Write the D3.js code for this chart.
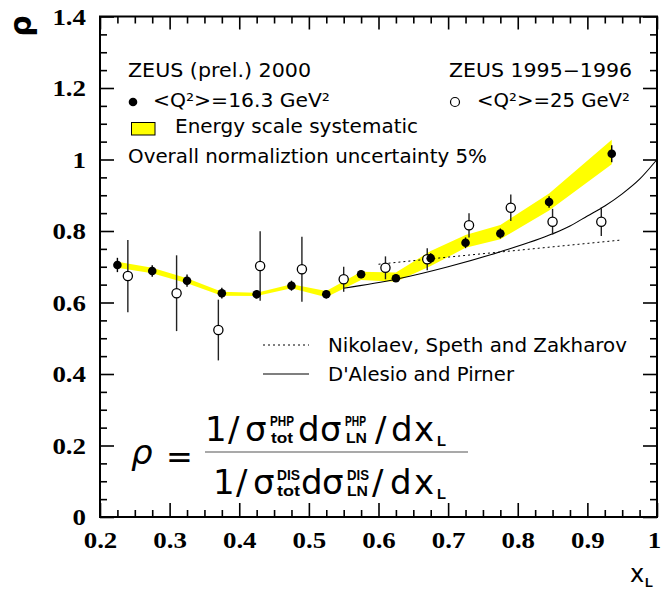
<!DOCTYPE html>
<html>
<head>
<meta charset="utf-8">
<script src="https://cdn.jsdelivr.net/npm/d3@7"></script>
<style>
  html, body { margin: 0; padding: 0; background: #fff; }
  svg { display: block; }
</style>
</head>
<body>
<svg id="chart" width="661" height="591"></svg>
<script>
// ZEUS 2000 (prel.), <Q^2> = 16.3 GeV^2 : leading-neutron ratio rho vs x_L
const xZeus2000 = [0.225, 0.275, 0.325, 0.375, 0.425, 0.475, 0.525, 0.575, 0.625, 0.675, 0.725, 0.775, 0.845, 0.935];
const rhoZeus2000 = [0.705, 0.688, 0.661, 0.626, 0.623, 0.647, 0.623, 0.679, 0.668, 0.724, 0.767, 0.793, 0.881, 1.016];
const errZeus2000 = [0.020, 0.016, 0.017, 0.015, 0.012, 0.014, 0.012, 0.011, 0.011, 0.014, 0.015, 0.014, 0.016, 0.024];
// energy-scale systematic band (lower / upper edge at each x)
const bandLow  = [0.697, 0.682, 0.654, 0.619, 0.618, 0.640, 0.615, 0.663, 0.658, 0.702, 0.753, 0.777, 0.857, 0.987];
const bandHigh = [0.714, 0.697, 0.668, 0.630, 0.627, 0.651, 0.632, 0.686, 0.684, 0.744, 0.789, 0.817, 0.905, 1.055];

// ZEUS 1995-1996, <Q^2> = 25 GeV^2
const xZeus9596 = [0.24, 0.31, 0.37, 0.43, 0.49, 0.55, 0.61, 0.67, 0.73, 0.79, 0.85, 0.92];
const rhoZeus9596 = [0.674, 0.626, 0.523, 0.702, 0.693, 0.665, 0.697, 0.721, 0.816, 0.865, 0.826, 0.826];
const errZeus9596 = [0.101, 0.106, 0.085, 0.097, 0.091, 0.035, 0.032, 0.031, 0.034, 0.037, 0.036, 0.040];

// theory curves
const xNSZ = [0.60, 0.70, 0.80, 0.95];
const rhoNSZ = [0.707, 0.727, 0.746, 0.775];
const xDP = [0.55, 0.625, 0.70, 0.775, 0.85, 0.875, 0.90, 0.925, 0.95, 0.975, 1.0];
const rhoDP = [0.640, 0.665, 0.700, 0.742, 0.792, 0.814, 0.842, 0.870, 0.904, 0.945, 1.0];

// axis ticks
const xMajorTicks = [0.2, 0.3, 0.4, 0.5, 0.6, 0.7, 0.8, 0.9, 1];
const xTickLabels = ["0.2", "0.3", "0.4", "0.5", "0.6", "0.7", "0.8", "0.9", "1"];
const yMajorTicks = [0, 0.2, 0.4, 0.6, 0.8, 1, 1.2, 1.4];
const yTickLabels = ["0", "0.2", "0.4", "0.6", "0.8", "1", "1.2", "1.4"];

const svg = d3.select("#chart");
const L = 100, R = 657, T = 16.5, B = 517;
const x = d3.scaleLinear().domain([0.2, 1]).range([L, R]);
const y = d3.scaleLinear().domain([0, 1.4]).range([B, T]);

const xMinor = d3.range(0.2, 1.0001, 0.025).filter(v => Math.abs(v * 10 - Math.round(v * 10)) > 1e-6);
const yMinor = d3.range(0, 1.4001, 0.05).filter(v => Math.abs(v * 5 - Math.round(v * 5)) > 1e-6);

const serif = "'Liberation Serif', 'Times New Roman', serif";
const sans = "'DejaVu Sans', sans-serif";

function styleAxis(g) {
  g.select(".domain").remove();
  g.selectAll(".tick line").attr("stroke", "#000").attr("stroke-width", 1.6);
}

// bottom axis with labels
const gB = svg.append("g").attr("transform", `translate(0,${B})`)
  .call(d3.axisBottom(x).tickValues(xMajorTicks).tickSize(-14).tickSizeOuter(0).tickPadding(14)
    .tickFormat((d, i) => xTickLabels[i]));
styleAxis(gB);
svg.append("g").attr("transform", `translate(0,${B})`)
  .call(d3.axisBottom(x).tickValues(xMinor).tickSize(-7).tickSizeOuter(0).tickFormat(""))
  .call(styleAxis);
// top axis
svg.append("g").attr("transform", `translate(0,${T})`)
  .call(d3.axisTop(x).tickValues(xMajorTicks).tickSize(-13).tickSizeOuter(0).tickFormat(""))
  .call(styleAxis);
svg.append("g").attr("transform", `translate(0,${T})`)
  .call(d3.axisTop(x).tickValues(xMinor).tickSize(-7).tickSizeOuter(0).tickFormat(""))
  .call(styleAxis);
// left axis with labels
const gL = svg.append("g").attr("transform", `translate(${L},0)`)
  .call(d3.axisLeft(y).tickValues(yMajorTicks).tickSize(-14).tickSizeOuter(0).tickPadding(14)
    .tickFormat((d, i) => yTickLabels[i]));
styleAxis(gL);
svg.append("g").attr("transform", `translate(${L},0)`)
  .call(d3.axisLeft(y).tickValues(yMinor).tickSize(-7).tickSizeOuter(0).tickFormat(""))
  .call(styleAxis);
// right axis
svg.append("g").attr("transform", `translate(${R},0)`)
  .call(d3.axisRight(y).tickValues(yMajorTicks).tickSize(-14).tickSizeOuter(0).tickFormat(""))
  .call(styleAxis);
svg.append("g").attr("transform", `translate(${R},0)`)
  .call(d3.axisRight(y).tickValues(yMinor).tickSize(-7).tickSizeOuter(0).tickFormat(""))
  .call(styleAxis);

[gB, gL].forEach(g => g.selectAll(".tick text")
  .attr("fill", "#000")
  .style("font-family", serif).style("font-weight", "bold").style("font-size", "24px")
  .each(function () {
    const w = this.getComputedTextLength();
    d3.select(this).attr("textLength", w * 1.12).attr("lengthAdjust", "spacingAndGlyphs");
  }));
// keep the last x label inside the page edge
gB.selectAll(".tick text").filter(d => d === 1).attr("dx", -3);

// frame
svg.append("rect").attr("x", L).attr("y", T).attr("width", R - L).attr("height", B - T)
  .attr("fill", "none").attr("stroke", "#000").attr("stroke-width", 2);

// systematic band
const bandData = xZeus2000.map((v, i) => ({ x: v, lo: bandLow[i], hi: bandHigh[i] }));
svg.append("path").datum(bandData)
  .attr("d", d3.area().x(d => x(d.x)).y0(d => y(d.lo)).y1(d => y(d.hi)))
  .attr("fill", "#ffff00").attr("stroke", "none");

// theory curves
svg.append("path").datum(xNSZ.map((v, i) => [v, rhoNSZ[i]]))
  .attr("d", d3.line().x(d => x(d[0])).y(d => y(d[1])))
  .attr("fill", "none").attr("stroke", "#000").attr("stroke-width", 1).attr("stroke-dasharray", "2,3");
svg.append("path").datum(xDP.map((v, i) => [v, rhoDP[i]]))
  .attr("d", d3.line().x(d => x(d[0])).y(d => y(d[1])).curve(d3.curveMonotoneX))
  .attr("fill", "none").attr("stroke", "#000").attr("stroke-width", 1.1);

// ZEUS 1995-1996 open points
const open = xZeus9596.map((v, i) => ({ x: v, r: rhoZeus9596[i], e: errZeus9596[i] }));
svg.append("g").selectAll("line").data(open).join("line")
  .attr("x1", d => x(d.x)).attr("x2", d => x(d.x))
  .attr("y1", d => y(d.r - d.e)).attr("y2", d => y(d.r + d.e))
  .attr("stroke", "#222").attr("stroke-width", 1.4);
svg.append("g").selectAll("circle").data(open).join("circle")
  .attr("cx", d => x(d.x)).attr("cy", d => y(d.r)).attr("r", 4.6)
  .attr("fill", "#fff").attr("stroke", "#000").attr("stroke-width", 1.3);

// ZEUS 2000 filled points
const full = xZeus2000.map((v, i) => ({ x: v, r: rhoZeus2000[i], e: errZeus2000[i] }));
svg.append("g").selectAll("line").data(full).join("line")
  .attr("x1", d => x(d.x)).attr("x2", d => x(d.x))
  .attr("y1", d => y(d.r - d.e)).attr("y2", d => y(d.r + d.e))
  .attr("stroke", "#000").attr("stroke-width", 1.4);
svg.append("g").selectAll("circle").data(full).join("circle")
  .attr("cx", d => x(d.x)).attr("cy", d => y(d.r)).attr("r", 4.3)
  .attr("fill", "#000");

// text helper
function put(px, py, str, o = {}) {
  const t = svg.append("text").attr("x", px).attr("y", py).text(str)
    .style("font-family", o.family || sans)
    .style("font-size", (o.size || 19) + "px")
    .style("font-weight", o.weight || "normal")
    .style("font-style", o.style || "normal")
    .attr("fill", "#000");
  if (o.width) t.attr("textLength", o.width).attr("lengthAdjust", "spacingAndGlyphs");
  if (o.anchor) t.attr("text-anchor", o.anchor);
  return t;
}

// legends
put(128, 77, "ZEUS (prel.) 2000", { width: 183 });
svg.append("circle").attr("cx", 133).attr("cy", 102).attr("r", 4.3).attr("fill", "#000");
put(153, 107, "<Q²>=16.3 GeV²", { width: 177 });
svg.append("rect").attr("x", 131.5).attr("y", 122.5).attr("width", 23.5).attr("height", 12.5)
  .attr("fill", "#ffff00").attr("stroke", "#000").attr("stroke-width", 1);
put(175, 133, "Energy scale systematic", { width: 243 });
put(128, 163, "Overall normaliztion uncertainty 5%", { width: 359 });

put(449, 77, "ZEUS 1995−1996", { width: 183 });
svg.append("circle").attr("cx", 455).attr("cy", 102).attr("r", 4.5)
  .attr("fill", "#fff").attr("stroke", "#000").attr("stroke-width", 1.2);
put(477, 107, "<Q²>=25 GeV²", { width: 153 });

svg.append("line").attr("x1", 263).attr("x2", 309).attr("y1", 345).attr("y2", 345)
  .attr("stroke", "#000").attr("stroke-width", 1).attr("stroke-dasharray", "2,3");
put(328, 352, "Nikolaev, Speth and Zakharov", { width: 299 });
svg.append("line").attr("x1", 263).attr("x2", 309).attr("y1", 374).attr("y2", 374)
  .attr("stroke", "#000").attr("stroke-width", 1.1);
put(328, 381, "D'Alesio and Pirner", { width: 186 });

// axis titles
put(0, 0, "ρ", { size: 30, weight: "bold" })
  .attr("text-anchor", "middle")
  .attr("transform", "translate(31,26) rotate(-90)");
put(630, 582, "x", { size: 24 });
put(645, 587, "L", { size: 13, weight: "bold", family: "'Liberation Sans', sans-serif" });

// ratio definition
const subF = { size: 14, weight: "bold", family: "'Liberation Sans', sans-serif" };
const big = { size: 34 };
put(131, 464, "ρ", { size: 34, style: "italic" });
put(166, 468, "=", { size: 32 });
svg.append("line").attr("x1", 205).attr("x2", 468).attr("y1", 452).attr("y2", 452)
  .attr("stroke", "#555").attr("stroke-width", 1.2);

// numerator
put(205, 441, "1", big);
put(228, 441, "/", big);
put(245, 441, "σ", big);
put(270, 426, "PHP", Object.assign({ width: 24 }, subF));
put(271, 443, "tot", Object.assign({ width: 22 }, subF));
put(298, 441, "d", big);
put(320, 441, "σ", big);
put(345, 426, "PHP", Object.assign({ width: 21 }, subF));
put(346, 443, "LN", Object.assign({ width: 21 }, subF));
put(375, 441, "/", big);
put(391, 441, "d", big);
put(414, 441, "x", big);
put(437, 446, "L", Object.assign({ width: 9 }, subF));

// denominator
put(213, 494, "1", big);
put(236, 494, "/", big);
put(253, 494, "σ", big);
put(277, 480, "DIS", Object.assign({ width: 23 }, subF));
put(277, 496, "tot", Object.assign({ width: 23 }, subF));
put(301, 494, "d", big);
put(322, 494, "σ", big);
put(347, 480, "DIS", Object.assign({ width: 22 }, subF));
put(347, 496, "LN", Object.assign({ width: 21 }, subF));
put(372, 494, "/", big);
put(390, 494, "d", big);
put(414, 494, "x", big);
put(437, 499, "L", Object.assign({ width: 9 }, subF));
</script>
</body>
</html>
